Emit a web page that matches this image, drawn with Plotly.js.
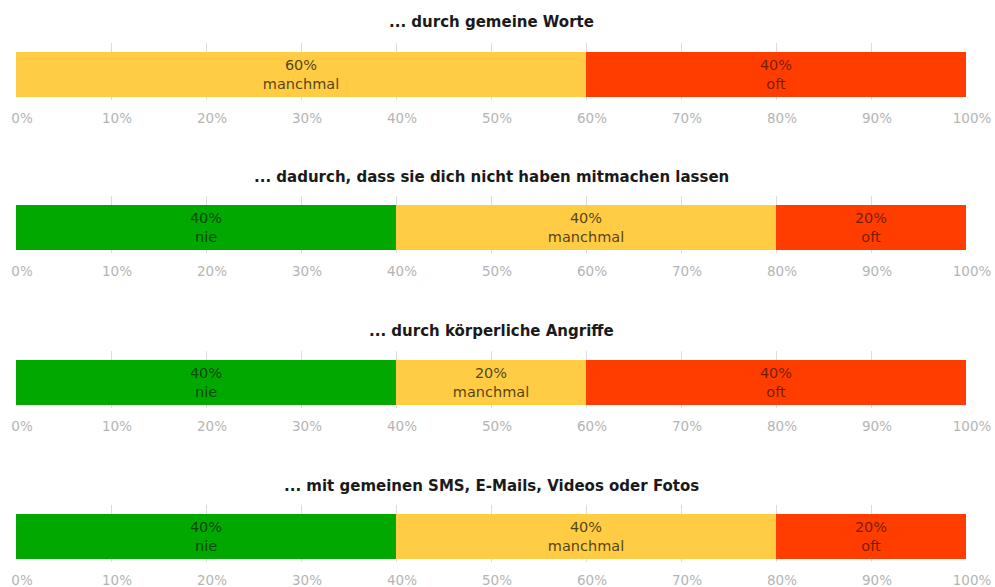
<!DOCTYPE html>
<html>
<head>
<meta charset="utf-8">
<script src="https://cdn.plot.ly/plotly-3.0.1.min.js"></script>
<style>html,body{margin:0;padding:0;background:#fff;}#chart{width:995px;height:587px;}</style>
</head>
<body>
<div id="chart"></div>
<script>
const questions = [
  "... durch gemeine Worte",
  "... dadurch, dass sie dich nicht haben mitmachen lassen",
  "... durch körperliche Angriffe",
  "... mit gemeinen SMS, E-Mails, Videos oder Fotos"
];
const seriesNames = ["nie", "manchmal", "oft"];
const nie      = [0, 40, 40, 40];
const manchmal = [60, 40, 20, 40];
const oft      = [40, 20, 40, 20];
const tickVals = [0, 10, 20, 30, 40, 50, 60, 70, 80, 90, 100];
const tickText = ["0%", "10%", "20%", "30%", "40%", "50%", "60%", "70%", "80%", "90%", "100%"];

const seriesValues = [nie, manchmal, oft];
const colors = ["#00A800", "#FFCC44", "#FF3D00"];
const textColors = ["rgba(0,0,0,0.6)", "rgba(0,0,0,0.7)", "rgba(0,0,0,0.55)"];

// pixel geometry
const plotTop = 43, plotBottom = 562, H = plotBottom - plotTop;
const panelTops = [43, 196, 351, 505];
const panelH = 57;
const titleYs = [22, 177, 331, 486];

const traces = [];
const layout = {
  width: 995, height: 587,
  margin: {l: 16, r: 29, t: plotTop, b: 587 - plotBottom, pad: 0},
  paper_bgcolor: "#fff", plot_bgcolor: "#fff",
  barmode: "stack",
  showlegend: false,
  font: {family: "DejaVu Sans, Verdana, sans-serif", size: 13, color: "#333"},
  annotations: []
};

questions.forEach((q, i) => {
  const k = i + 1;
  const xa = "x" + (k === 1 ? "" : k);
  const ya = "y" + (k === 1 ? "" : k);
  seriesNames.forEach((s, j) => {
    const v = seriesValues[j][i];
    traces.push({
      type: "bar", orientation: "h",
      x: [v], y: [0], width: [1],
      xaxis: xa, yaxis: ya,
      name: s,
      marker: {color: colors[j], line: {width: 0}},
      text: [v > 0 ? v + "%<br>" + s : ""],
      textposition: "inside",
      insidetextanchor: "middle",
      textangle: 0,
      constraintext: "none",
      textfont: {family: "DejaVu Sans, Verdana, sans-serif", size: 14.5, color: textColors[j]},
      hoverinfo: "skip"
    });
  });
  const top = panelTops[i];
  const d0 = (plotBottom - (top + panelH)) / H;
  const d1 = (plotBottom - top) / H;
  layout["xaxis" + (k === 1 ? "" : k)] = {
    anchor: ya, domain: [0, 1], range: [0, 100],
    tickvals: tickVals, ticktext: tickText,
    showgrid: true, gridcolor: "#dcdcdc", gridwidth: 1,
    zeroline: false, showline: false, ticks: "",
    ticklabelstandoff: 8, ticklabelshift: 6,
    tickfont: {family: "DejaVu Sans, Verdana, sans-serif", size: 13.5, color: "#b4b4b4"},
    fixedrange: true
  };
  layout["yaxis" + (k === 1 ? "" : k)] = {
    anchor: xa, domain: [d0, d1], range: [-0.567, 0.7],
    showgrid: false, zeroline: false, showticklabels: false, ticks: "",
    fixedrange: true
  };
  layout.annotations.push({
    text: "<b>" + q + "</b>",
    xref: "paper", yref: "paper",
    x: 0.5, y: (plotBottom - titleYs[i]) / H,
    xanchor: "center", yanchor: "middle",
    showarrow: false,
    font: {family: "DejaVu Sans, Verdana, sans-serif", size: 15, color: "#1a1a1a"}
  });
});

Plotly.newPlot("chart", traces, layout, {displayModeBar: false, staticPlot: true});
</script>
</body>
</html>
